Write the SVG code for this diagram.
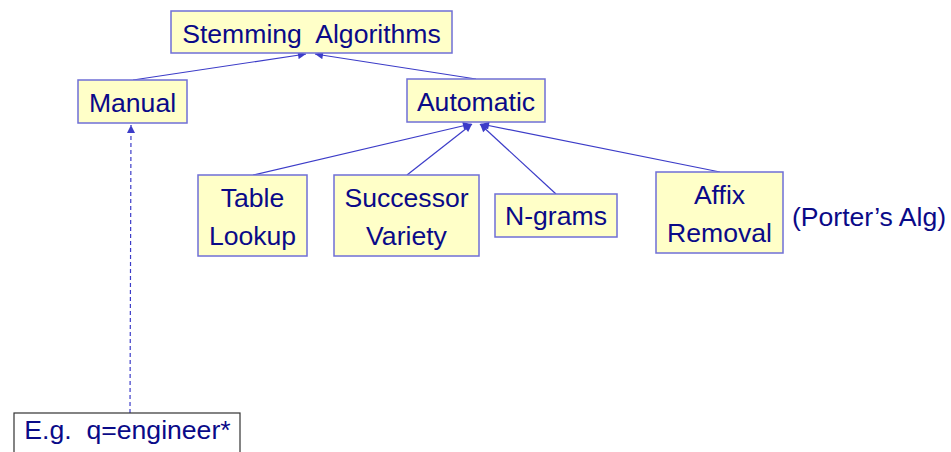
<svg xmlns="http://www.w3.org/2000/svg" width="951" height="452" viewBox="0 0 951 452">
<style>
.box{fill:#ffffc8;stroke:#6f6fd6;stroke-width:1.5}
.t{font-family:"Liberation Sans",Arial,sans-serif;font-size:26.6px;fill:#0a0a88;text-anchor:middle}
.e{stroke:#3c3cc8;stroke-width:1.2;fill:none}
</style>
<defs>
<marker id="ah" viewBox="0 0 10 10" refX="10" refY="5" markerWidth="10" markerHeight="8" markerUnits="userSpaceOnUse" orient="auto">
<path d="M0,0 L10,5 L0,10 z" fill="#3c3cc8"/>
</marker>
</defs>
<rect width="951" height="452" fill="#ffffff"/>
<g id="connectors">
<line class="e" x1="133" y1="80" x2="306" y2="54" marker-end="url(#ah)"/>
<line class="e" x1="476" y1="79" x2="315" y2="54" marker-end="url(#ah)"/>
<line class="e" x1="253" y1="175" x2="471" y2="124" marker-end="url(#ah)"/>
<line class="e" x1="407" y1="175" x2="472" y2="124" marker-end="url(#ah)"/>
<line class="e" x1="556" y1="194" x2="480" y2="124" marker-end="url(#ah)"/>
<line class="e" x1="720" y1="172" x2="481" y2="124" marker-end="url(#ah)"/>
<line class="e" x1="130" y1="413" x2="131" y2="125" stroke-dasharray="4,3" marker-end="url(#ah)"/>
</g>
<g id="stemming">
<rect class="box" x="171" y="11" width="281" height="42"/>
<text class="t" x="311.5" y="43" xml:space="preserve">Stemming  Algorithms</text>
</g>
<g id="manual">
<rect class="box" x="78" y="80" width="109" height="43"/>
<text class="t" x="132.5" y="112">Manual</text>
</g>
<g id="automatic">
<rect class="box" x="407" y="79" width="138" height="43"/>
<text class="t" x="476" y="111">Automatic</text>
</g>
<g id="table-lookup">
<rect class="box" x="198" y="175" width="109" height="81"/>
<text class="t" x="252.5" y="207">Table</text>
<text class="t" x="252.5" y="245">Lookup</text>
</g>
<g id="successor-variety">
<rect class="box" x="334" y="175" width="145" height="81"/>
<text class="t" x="406.5" y="207">Successor</text>
<text class="t" x="406.5" y="245">Variety</text>
</g>
<g id="n-grams">
<rect class="box" x="495" y="194" width="122" height="43"/>
<text class="t" x="556" y="225">N-grams</text>
</g>
<g id="affix-removal">
<rect class="box" x="656" y="172" width="127" height="81"/>
<text class="t" x="719.5" y="204">Affix</text>
<text class="t" x="719.5" y="242">Removal</text>
</g>
<g id="porter-note">
<text class="t" x="869" y="226">(Porter’s Alg)</text>
</g>
<g id="example">
<rect x="14" y="413" width="226" height="50" fill="#ffffff" stroke="#333333" stroke-width="1.2"/>
<text class="t" x="127.5" y="439" xml:space="preserve">E.g.  q=engineer*</text>
</g>
</svg>
